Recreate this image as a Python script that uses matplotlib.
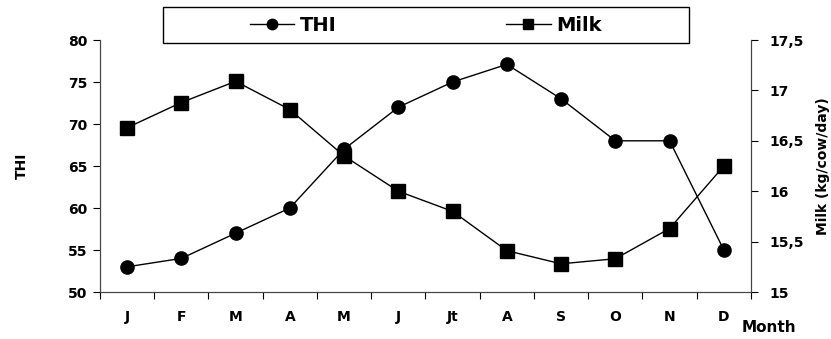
import numpy as np
import matplotlib
matplotlib.use("Agg")
import matplotlib.pyplot as plt
from matplotlib.lines import Line2D
from matplotlib.patches import Rectangle

plt.rcParams['font.family'] = ['DejaVu Sans']

months = ["J", "F", "M", "A", "M", "J", "Jt", "A", "S", "O", "N", "D"]
thi = [53, 54, 57, 60, 67, 72, 75, 77.1, 73, 68, 68, 55]
milk = [16.63, 16.88, 17.09, 16.81, 16.35, 16.0, 15.8, 15.41, 15.28, 15.33, 15.63, 16.25]

fig = plt.figure(figsize=(8.31, 3.39), dpi=100)
ax = fig.add_axes([0.1203, 0.1386, 0.7834, 0.7434])
ax2 = ax.twinx()

x = np.arange(len(months))
ax.plot(x, thi, color="black", lw=1, marker="o", ms=9.5, zorder=3)
ax2.plot(x, milk, color="black", lw=1, marker="s", ms=10, zorder=3)

ax.set_xlim(-0.5, len(months) - 0.5)
ax.set_ylim(50, 80)
ax.set_yticks(np.arange(50, 81, 5))
ax2.set_ylim(15, 17.5)
ax2.set_yticks([15, 15.5, 16, 16.5, 17, 17.5])
ax2.set_yticklabels(["15", "15,5", "16", "16,5", "17", "17,5"])

ax.set_xticks(np.arange(-0.5, len(months), 1))
ax.set_xticklabels([])
ax.set_xticks(x, minor=True)
ax.set_xticklabels(months, minor=True)
ax.tick_params(axis="x", which="minor", length=0, pad=13)
ax.tick_params(axis="x", which="major", length=5, direction="out")

for a in (ax, ax2):
    a.spines["top"].set_visible(False)
    for s in a.spines.values():
        s.set_color("#444444")
    a.tick_params(labelsize=10, colors="black")
    for lab in a.get_yticklabels() + a.get_xticklabels(minor=True):
        lab.set_fontweight("bold")
ax.tick_params(axis="y", length=5, pad=4)
ax2.tick_params(axis="y", length=5, pad=8)

ax.set_ylabel("THI", fontsize=10, fontweight="bold", labelpad=28)
ax2.set_ylabel("Milk (kg/cow/day)", fontsize=10, fontweight="bold", labelpad=9)
fig.text(0.892, 0.02, "Month", fontsize=11, fontweight="bold", ha="left")

# legend box
fig.patches.append(Rectangle((0.196, 0.873), 0.633, 0.106, transform=fig.transFigure,
                             fill=True, facecolor="white", edgecolor="black",
                             lw=1, zorder=5))
handles = [
    Line2D([], [], color="black", lw=1, marker="o", ms=7.5),
    Line2D([], [], color="black", lw=1, marker="s", ms=7.5),
]
leg = fig.legend(handles, ["THI", "Milk"], loc="center",
                 bbox_to_anchor=(0.5125, 0.926), frameon=False,
                 ncol=2, handlelength=2.3, handletextpad=0.3,
                 columnspacing=8.7, borderaxespad=0,
                 prop={"weight": "bold", "size": 14})
leg.set_zorder(6)

fig.savefig("out.png", dpi=100)
